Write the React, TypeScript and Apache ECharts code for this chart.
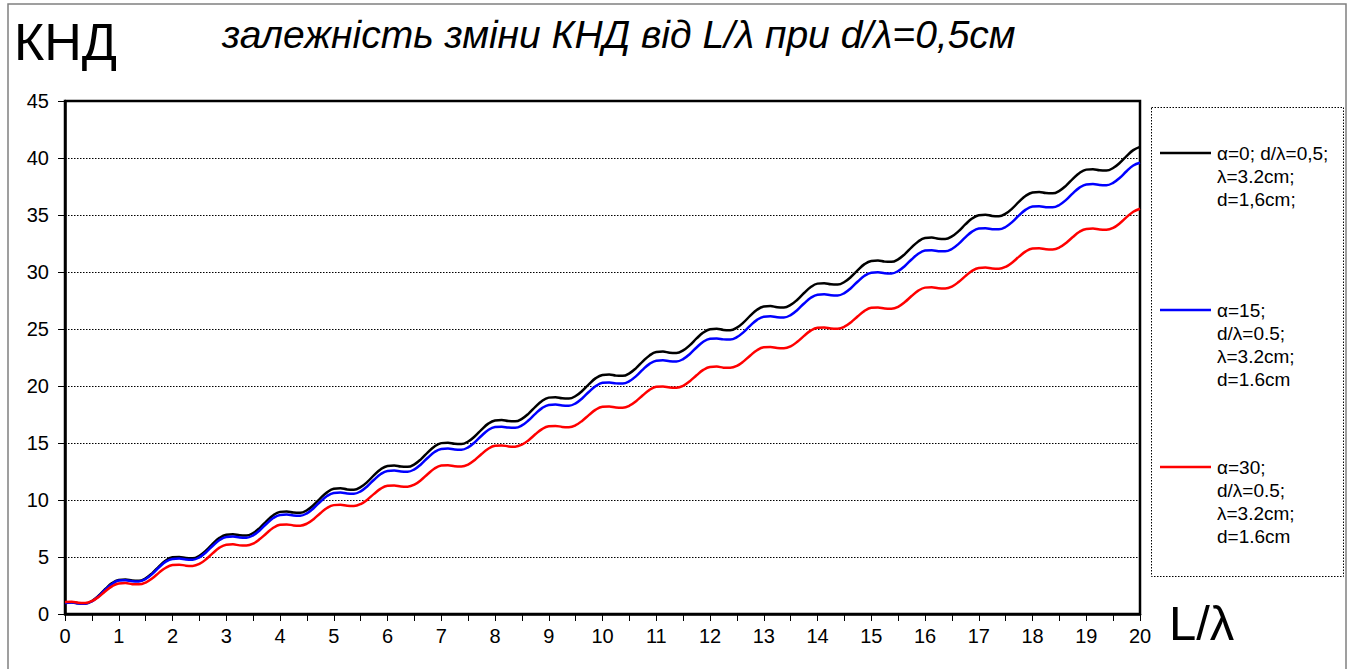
import React, { useEffect, useRef } from "react";
import * as echarts from "echarts";

// L/λ sample positions (step 0.125)
const xValues: number[] = [
  0, 0.125, 0.25, 0.375, 0.5, 0.625, 0.75, 0.875,
  1, 1.125, 1.25, 1.375, 1.5, 1.625, 1.75, 1.875,
  2, 2.125, 2.25, 2.375, 2.5, 2.625, 2.75, 2.875,
  3, 3.125, 3.25, 3.375, 3.5, 3.625, 3.75, 3.875,
  4, 4.125, 4.25, 4.375, 4.5, 4.625, 4.75, 4.875,
  5, 5.125, 5.25, 5.375, 5.5, 5.625, 5.75, 5.875,
  6, 6.125, 6.25, 6.375, 6.5, 6.625, 6.75, 6.875,
  7, 7.125, 7.25, 7.375, 7.5, 7.625, 7.75, 7.875,
  8, 8.125, 8.25, 8.375, 8.5, 8.625, 8.75, 8.875,
  9, 9.125, 9.25, 9.375, 9.5, 9.625, 9.75, 9.875,
  10, 10.125, 10.25, 10.375, 10.5, 10.625, 10.75, 10.875,
  11, 11.125, 11.25, 11.375, 11.5, 11.625, 11.75, 11.875,
  12, 12.125, 12.25, 12.375, 12.5, 12.625, 12.75, 12.875,
  13, 13.125, 13.25, 13.375, 13.5, 13.625, 13.75, 13.875,
  14, 14.125, 14.25, 14.375, 14.5, 14.625, 14.75, 14.875,
  15, 15.125, 15.25, 15.375, 15.5, 15.625, 15.75, 15.875,
  16, 16.125, 16.25, 16.375, 16.5, 16.625, 16.75, 16.875,
  17, 17.125, 17.25, 17.375, 17.5, 17.625, 17.75, 17.875,
  18, 18.125, 18.25, 18.375, 18.5, 18.625, 18.75, 18.875,
  19, 19.125, 19.25, 19.375, 19.5, 19.625, 19.75, 19.875,
  20,
];

// α=0
const alpha0: number[] = [
  1.0, 1.04, 0.94, 0.92, 1.14, 1.6, 2.19, 2.71,
  2.99, 3.03, 2.93, 2.91, 3.13, 3.59, 4.18, 4.7,
  4.97, 5.01, 4.91, 4.89, 5.11, 5.57, 6.16, 6.68,
  6.96, 7.0, 6.9, 6.88, 7.1, 7.56, 8.15, 8.67,
  8.96, 9.0, 8.9, 8.88, 9.1, 9.56, 10.15, 10.67,
  10.99, 11.03, 10.93, 10.91, 11.13, 11.59, 12.18, 12.7,
  12.99, 13.03, 12.93, 12.91, 13.13, 13.59, 14.18, 14.7,
  14.99, 15.03, 14.93, 14.91, 15.13, 15.59, 16.18, 16.7,
  16.98, 17.02, 16.92, 16.9, 17.12, 17.58, 18.17, 18.69,
  18.98, 19.02, 18.92, 18.9, 19.12, 19.58, 20.17, 20.69,
  20.97, 21.01, 20.91, 20.89, 21.11, 21.57, 22.16, 22.68,
  22.98, 23.02, 22.92, 22.9, 23.12, 23.58, 24.17, 24.69,
  24.98, 25.02, 24.92, 24.9, 25.12, 25.58, 26.17, 26.69,
  26.97, 27.01, 26.91, 26.89, 27.11, 27.57, 28.16, 28.68,
  28.98, 29.02, 28.92, 28.9, 29.12, 29.58, 30.17, 30.69,
  30.97, 31.01, 30.91, 30.89, 31.11, 31.57, 32.16, 32.68,
  32.98, 33.02, 32.92, 32.9, 33.12, 33.58, 34.17, 34.69,
  34.98, 35.02, 34.92, 34.9, 35.12, 35.58, 36.17, 36.69,
  36.98, 37.02, 36.92, 36.9, 37.12, 37.58, 38.17, 38.69,
  38.98, 39.02, 38.92, 38.9, 39.12, 39.58, 40.17, 40.69,
  40.98,
];

// α=15
const alpha15: number[] = [
  0.97, 1.0, 0.92, 0.9, 1.11, 1.56, 2.13, 2.63,
  2.93, 2.96, 2.88, 2.86, 3.07, 3.52, 4.09, 4.59,
  4.83, 4.86, 4.78, 4.76, 4.97, 5.42, 5.99, 6.49,
  6.76, 6.79, 6.71, 6.69, 6.9, 7.35, 7.92, 8.42,
  8.69, 8.72, 8.64, 8.62, 8.83, 9.28, 9.85, 10.35,
  10.62, 10.65, 10.57, 10.55, 10.76, 11.21, 11.78, 12.28,
  12.55, 12.58, 12.5, 12.48, 12.69, 13.14, 13.71, 14.21,
  14.48, 14.51, 14.43, 14.41, 14.62, 15.07, 15.64, 16.14,
  16.4, 16.43, 16.35, 16.33, 16.54, 16.99, 17.56, 18.06,
  18.34, 18.37, 18.29, 18.27, 18.48, 18.93, 19.5, 20.0,
  20.28, 20.31, 20.23, 20.21, 20.42, 20.87, 21.44, 21.94,
  22.22, 22.25, 22.17, 22.15, 22.36, 22.81, 23.38, 23.88,
  24.14, 24.17, 24.09, 24.07, 24.28, 24.73, 25.3, 25.8,
  26.08, 26.11, 26.03, 26.01, 26.22, 26.67, 27.24, 27.74,
  28.01, 28.04, 27.96, 27.94, 28.15, 28.6, 29.17, 29.67,
  29.94, 29.97, 29.89, 29.87, 30.08, 30.53, 31.1, 31.6,
  31.88, 31.91, 31.83, 31.81, 32.02, 32.47, 33.04, 33.54,
  33.81, 33.84, 33.76, 33.74, 33.95, 34.4, 34.97, 35.47,
  35.74, 35.77, 35.69, 35.67, 35.88, 36.33, 36.9, 37.4,
  37.68, 37.71, 37.63, 37.61, 37.82, 38.27, 38.84, 39.34,
  39.58,
];

// α=30
const alpha30: number[] = [
  1.05, 1.08, 0.99, 0.97, 1.13, 1.5, 2.0, 2.43,
  2.68, 2.71, 2.62, 2.6, 2.76, 3.13, 3.63, 4.06,
  4.3, 4.33, 4.24, 4.22, 4.39, 4.8, 5.34, 5.82,
  6.08, 6.11, 6.02, 6.0, 6.17, 6.57, 7.09, 7.56,
  7.83, 7.86, 7.77, 7.75, 7.92, 8.32, 8.84, 9.3,
  9.55, 9.58, 9.49, 9.47, 9.64, 10.03, 10.54, 11.0,
  11.25, 11.28, 11.19, 11.17, 11.34, 11.75, 12.28, 12.76,
  13.02, 13.05, 12.96, 12.94, 13.11, 13.51, 14.03, 14.5,
  14.76, 14.79, 14.7, 14.68, 14.85, 15.25, 15.76, 16.22,
  16.47, 16.5, 16.41, 16.39, 16.56, 16.96, 17.47, 17.93,
  18.18, 18.21, 18.12, 18.1, 18.27, 18.67, 19.19, 19.66,
  19.93, 19.96, 19.87, 19.85, 20.02, 20.42, 20.94, 21.41,
  21.67, 21.7, 21.61, 21.59, 21.76, 22.16, 22.68, 23.14,
  23.39, 23.42, 23.33, 23.31, 23.48, 23.88, 24.4, 24.86,
  25.11, 25.14, 25.05, 25.03, 25.2, 25.6, 26.12, 26.59,
  26.86, 26.89, 26.8, 26.78, 26.95, 27.36, 27.89, 28.37,
  28.63, 28.66, 28.57, 28.55, 28.72, 29.12, 29.64, 30.1,
  30.36, 30.39, 30.3, 30.28, 30.45, 30.84, 31.35, 31.81,
  32.06, 32.09, 32.0, 31.98, 32.15, 32.55, 33.07, 33.53,
  33.78, 33.81, 33.72, 33.7, 33.87, 34.28, 34.81, 35.29,
  35.55,
];

const seriesNames: string[] = ["α=0", "α=15", "α=30"];
const seriesColors: string[] = ["#000000", "#0000FF", "#FF0000"];
const legendTexts: string[] = [
  "α=0; d/λ=0,5;\nλ=3.2cm;\nd=1,6cm;",
  "α=15;\nd/λ=0.5;\nλ=3.2cm;\nd=1.6cm",
  "α=30;\nd/λ=0.5;\nλ=3.2cm;\nd=1.6cm",
];
const legendY: number[] = [153, 310, 467];

const titleText = "залежність зміни КНД від L/λ при d/λ=0,5см";
const yAxisTitle = "КНД";
const xAxisTitle = "L/λ";

const FONT = "'Liberation Sans', Arial, sans-serif";

export default function App() {
  const ref = useRef<HTMLDivElement>(null);

  useEffect(() => {
    if (!ref.current) return;
    const chart = echarts.init(ref.current, undefined, { renderer: "svg" });
    const allSeries = [alpha0, alpha15, alpha30].map((vals, i) => ({
      name: seriesNames[i],
      type: "line",
      data: xValues.map((x, j) => [x, vals[j]]),
      smooth: 0.4,
      showSymbol: false,
      lineStyle: { color: seriesColors[i], width: 2.5 },
      itemStyle: { color: seriesColors[i] },
      z: 3 + i,
    }));

    const graphics: any[] = [
      {
        type: "rect",
        shape: { x: 8, y: 4, width: 1338, height: 720 },
        style: { fill: "none", stroke: "#808080", lineWidth: 1.5 },
        silent: true,
      },
      {
        type: "text",
        left: 14,
        top: 16,
        style: { text: yAxisTitle, font: `52px ${FONT}`, fill: "#000" },
      },
      {
        type: "text",
        left: 222,
        top: 15,
        style: { text: titleText, font: `italic 39px ${FONT}`, fill: "#000" },
      },
      {
        type: "text",
        left: 1169,
        top: 598,
        style: { text: xAxisTitle, font: `49px ${FONT}`, fill: "#000" },
      },
      {
        type: "rect",
        shape: { x: 1151.5, y: 107.5, width: 192, height: 469 },
        style: { fill: "#fff", stroke: "#000", lineWidth: 1, lineDash: [1.5, 1.5] },
      },
    ];
    legendTexts.forEach((t, i) => {
      graphics.push({
        type: "line",
        shape: { x1: 1160, y1: legendY[i], x2: 1211, y2: legendY[i] },
        style: { stroke: seriesColors[i], lineWidth: 2.5 },
      });
      graphics.push({
        type: "text",
        x: 1217,
        y: legendY[i] - 11.5,
        style: {
          text: t,
          font: `19px ${FONT}`,
          fill: "#000",
          lineHeight: 23,
          verticalAlign: "top",
        },
      });
    });

    chart.setOption({
      animation: false,
      backgroundColor: "#fff",
      grid: {
        left: 65,
        right: 209,
        top: 101,
        bottom: 55,
        show: true,
        borderColor: "#000",
        borderWidth: 2.5,
      },
      xAxis: {
        type: "value",
        min: 0,
        max: 20,
        interval: 1,
        axisLine: { show: true, onZero: false, lineStyle: { color: "#000", width: 2.5 } },
        axisTick: { show: true, length: 7, lineStyle: { color: "#000", width: 1 } },
        minorTick: { show: true, splitNumber: 2, length: 7, lineStyle: { color: "#000", width: 1 } },
        axisLabel: { color: "#000", fontSize: 20, fontFamily: FONT, margin: 12 },
        splitLine: { show: false },
      },
      yAxis: {
        type: "value",
        min: 0,
        max: 45,
        interval: 5,
        axisLine: { show: true, lineStyle: { color: "#000", width: 2.5 } },
        axisTick: { show: true, length: 7, lineStyle: { color: "#000", width: 1 } },
        axisLabel: { color: "#000", fontSize: 20, fontFamily: FONT, margin: 16 },
        splitLine: { show: true, lineStyle: { color: "#000", width: 1, type: [1.5, 1.5] } },
      },
      series: allSeries,
      graphic: graphics,
    });
    return () => chart.dispose();
  }, []);

  return (
    <div
      ref={ref}
      style={{ position: "fixed", left: 0, top: 0, width: 1349, height: 669, background: "#fff" }}
    />
  );
}
